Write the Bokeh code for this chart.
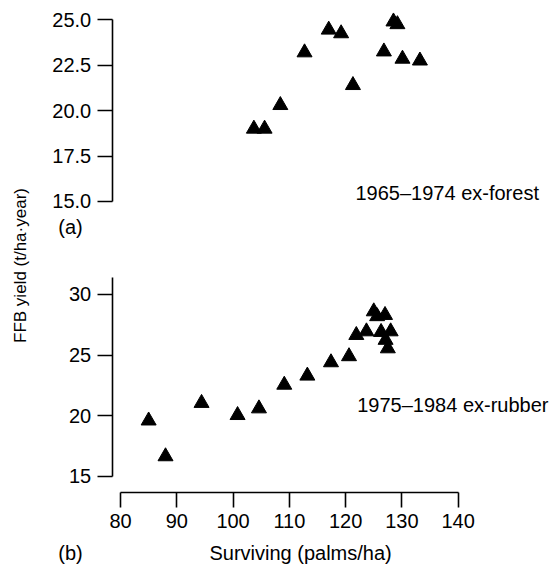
import math
from bokeh.plotting import figure
from bokeh.layouts import row, column
from bokeh.models import Range1d, FixedTicker, PrintfTickFormatter, Label
from bokeh.embed import file_html
from bokeh.resources import INLINE

# ---- data ----
forest_x = [103.7, 105.6, 108.4, 112.7, 117.0, 119.2, 121.3, 128.5, 129.2, 126.8, 130.1, 133.2]
forest_y = [19.0, 19.0, 20.3, 23.2, 24.45, 24.25, 21.4, 24.9, 24.75, 23.25, 22.85, 22.75]

rubber_x = [85.0, 88.0, 94.4, 100.8, 104.6, 109.1, 113.2, 117.4, 120.6, 121.9, 123.7,
            125.0, 125.6, 127.0, 126.3, 128.0, 127.1, 127.5]
rubber_y = [19.6, 16.65, 21.05, 20.05, 20.6, 22.55, 23.3, 24.4, 24.9, 26.65, 26.95,
            28.6, 28.2, 28.3, 26.9, 26.95, 26.25, 25.55]

x_ticks = [80, 90, 100, 110, 120, 130, 140]
ya_ticks = [15.0, 17.5, 20.0, 22.5, 25.0]
yb_ticks = [15, 20, 25, 30]

forest_text = "1965\u20131974 ex-forest"
rubber_text = "1975\u20131984 ex-rubber"
x_title = "Surviving (palms/ha)"
y_title = "FFB yield (t/ha\u00b7year)"

FONT = "Liberation Sans"
FS = "20px"
Y_AXIS_AT = 78.53


def style_axis(ax, ticks, bounds, loc, fmt=None, standoff=6):
    ax.ticker = FixedTicker(ticks=ticks)
    if fmt:
        ax.formatter = PrintfTickFormatter(format=fmt)
    ax.bounds = bounds
    ax.fixed_location = loc
    ax.axis_line_color = "black"
    ax.axis_line_width = 1.6
    ax.major_tick_line_color = "black"
    ax.major_tick_line_width = 1.6
    ax.major_tick_out = 15
    ax.major_tick_in = 0
    ax.minor_tick_out = 0
    ax.minor_tick_in = 0
    ax.major_label_standoff = standoff
    ax.major_label_text_font = FONT
    ax.major_label_text_font_size = FS
    ax.major_label_text_color = "black"


def base_fig(height, yr, xaxis):
    p = figure(width=517, height=height, output_backend="svg", toolbar_location=None,
               x_range=Range1d(65.43, 157.29), y_range=yr,
               x_axis_location=("below" if xaxis else None),
               min_border_left=0, min_border_right=0, min_border_top=0,
               min_border_bottom=0)
    p.outline_line_color = None
    p.xgrid.visible = False
    p.ygrid.visible = False
    p.background_fill_color = "white"
    p.border_fill_color = "white"
    return p


def add_label(p, x, y, text, align, baseline, size=FS, angle=0.0):
    p.add_layout(Label(x=x, y=y, text=text, text_align=align, text_baseline=baseline,
                       text_font=FONT, text_font_size=size, text_color="black",
                       angle=angle))


# ---- panel (a) ----
fa = base_fig(253, Range1d(12.138, 26.062), False)
style_axis(fa.yaxis[0], ya_ticks, (15, 25), Y_AXIS_AT, "%.1f")
fa.scatter(forest_x, forest_y, marker="triangle", size=15,
           fill_color="black", line_color="black")
add_label(fa, 121.75, 15.45, forest_text, "left", "middle")
add_label(fa, 71.12, 13.57, "(a)", "center", "middle")

# ---- panel (b) ----
fb = base_fig(313, Range1d(7.576, 33.38), True)
style_axis(fb.yaxis[0], yb_ticks, (15, 31.38), Y_AXIS_AT)
style_axis(fb.xaxis[0], x_ticks, (80, 140), 13.70, standoff=7)
fb.scatter(rubber_x, rubber_y, marker="triangle", size=15,
           fill_color="black", line_color="black")
add_label(fb, 122.06, 20.85, rubber_text, "left", "middle")
add_label(fb, 112.0, 8.7, x_title, "center", "middle")
add_label(fb, 71.12, 8.7, "(b)", "center", "middle")

# ---- shared y title ----
fy = figure(width=38, height=566, output_backend="svg", toolbar_location=None,
            x_range=Range1d(0, 38), y_range=Range1d(0, 566),
            min_border_left=0, min_border_right=0, min_border_top=0, min_border_bottom=0)
fy.axis.visible = False
fy.xgrid.visible = False
fy.ygrid.visible = False
fy.outline_line_color = None
add_label(fy, 20, 301, y_title, "center", "middle", size="17px", angle=math.pi / 2)

p = row(fy, column(fa, fb))
open("out.html", "w").write(file_html(p, INLINE))
